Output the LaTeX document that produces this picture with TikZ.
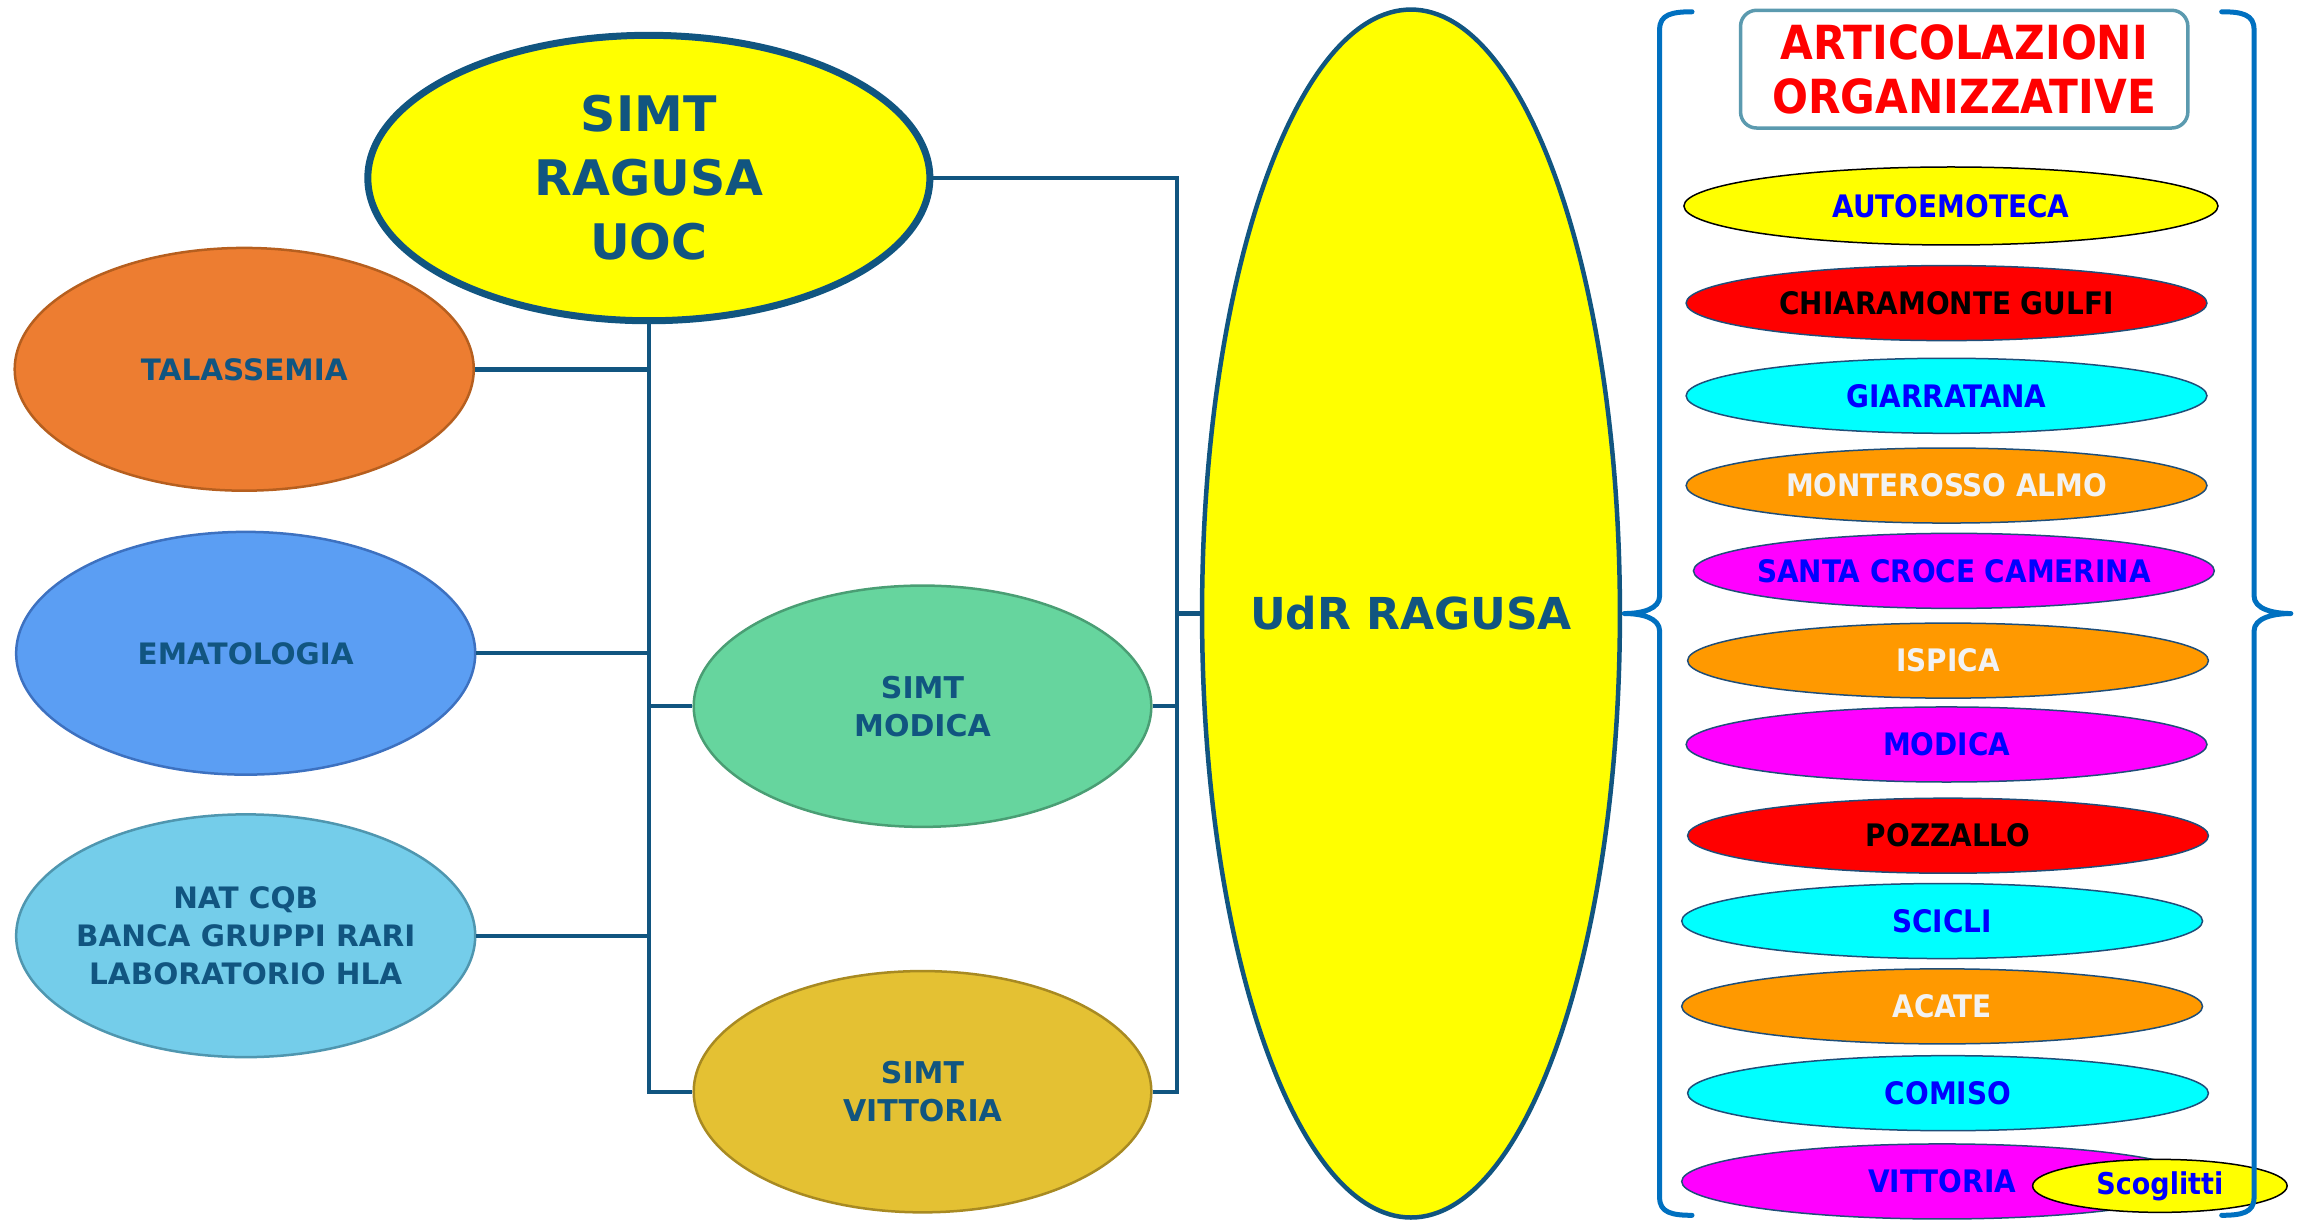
\documentclass[tikz,border=0pt]{standalone}
\usepackage{fontspec}
\setmainfont{DejaVu Sans}
\newfontfamily\cond{DejaVu Sans Condensed}
\usetikzlibrary{shapes.geometric}
\definecolor{navy}{HTML}{115580}
\definecolor{brblue}{HTML}{0070C0}
\definecolor{hdrbd}{HTML}{5B9AAF}
\definecolor{talf}{HTML}{ED7D31}\definecolor{tald}{HTML}{B65F1F}
\definecolor{emaf}{HTML}{5B9EF3}\definecolor{emad}{HTML}{3D71C0}
\definecolor{natf}{HTML}{74CDEA}\definecolor{natd}{HTML}{4F96AF}
\definecolor{modf}{HTML}{66D59E}\definecolor{modd}{HTML}{4A9E74}
\definecolor{vitf}{HTML}{E4C133}\definecolor{vitd}{HTML}{A88A22}
\definecolor{yel}{HTML}{FFFF00}\definecolor{rd}{HTML}{FF0000}
\definecolor{cy}{HTML}{00FFFF}\definecolor{orn}{HTML}{FF9900}
\definecolor{mag}{HTML}{FF00FF}\definecolor{bl}{HTML}{0000FF}
\definecolor{wh}{HTML}{F2F2F2}\definecolor{sbd}{HTML}{1F4E79}
\def\f{1.4713pt}
\begin{document}
\begin{tikzpicture}[x=1.4713pt,y=-1.4713pt,
  el/.style={ellipse,inner sep=0pt,align=center,text=navy,font=\bfseries},
  bigfont/.style={font=\fontsize{29.5}{38}\selectfont\bfseries},
  big/.style={el,minimum width=312*\f,minimum height=165*\f,line width=2.5pt,bigfont},
  mid/.style={el,minimum width=311*\f,minimum height=164*\f,line width=2.5pt,
     font=\fontsize{30}{38}\selectfont\bfseries},
  smfont/.style={font=\cond\fontsize{31}{36}\selectfont\bfseries},
  sm/.style={el,minimum width=354*\f,minimum height=51*\f,line width=1.5pt,draw=sbd,smfont},
  conn/.style={draw=navy,line width=4.4pt},
  brace/.style={draw=brblue,line width=5pt,line cap=round,line join=round}]
\useasboundingbox (0,0) rectangle (1568,829);

% main nodes
\node[el,fill=yel,draw=navy,line width=7pt,minimum width=382*\f,minimum height=194*\f,
  font=\fontsize{49}{64}\selectfont\bfseries] (uoc) at (441,121) {SIMT\\RAGUSA\\UOC};
\node[big,fill=talf,draw=tald] (tal) at (166,251) {TALASSEMIA};
\node[big,fill=emaf,draw=emad] (ema) at (167,444) {EMATOLOGIA};
\node[big,fill=natf,draw=natd,
  label={[text=navy,align=center,bigfont]center:NAT CQB\\BANCA GRUPPI RARI\\LABORATORIO HLA}] (nat) at (167,636) {};
\node[mid,fill=modf,draw=modd] (mod) at (627,480) {SIMT\\MODICA};
\node[mid,fill=vitf,draw=vitd] (vit) at (627,742) {SIMT\\VITTORIA};
\node[el,fill=yel,draw=navy,line width=4.5pt,minimum width=284*\f,minimum height=821*\f,
  label={[text=navy,font=\fontsize{44}{50}\selectfont\bfseries]center:UdR RAGUSA}] (udr) at (959,417) {};

% connectors
\coordinate (rb1) at (800,121);
\coordinate (rb2) at (800,742);
\coordinate (lb2) at (441,742);
\draw[conn] (uoc.east) -- (rb1) -- (rb2) -- (vit.east);
\draw[conn] (mod.east) -- (mod.east -| rb1);
\draw[conn] (udr.west) -- (udr.west -| rb1);
\draw[conn] (uoc.south) -- (lb2) -- (vit.west);
\draw[conn] (tal.east) -- (tal.east -| lb2);
\draw[conn] (ema.east) -- (ema.east -| lb2);
\draw[conn] (nat.east) -- (nat.east -| lb2);
\draw[conn] (mod.west) -- (mod.west -| lb2);

% header
\node[draw=hdrbd,line width=3.5pt,rounded corners=16pt,minimum width=304*\f,minimum height=80*\f,
  inner sep=0pt,align=center,text=rd,font=\cond\fontsize{47}{54}\selectfont\bfseries]
  (hdr) at (1335,47) {ARTICOLAZIONI\\ORGANIZZATIVE};

% small ellipses
\node[sm,fill=yel,draw=black,text=bl,minimum width=363*\f,minimum height=53*\f] (s1) at (1326,140) {AUTOEMOTECA};
\node[sm,fill=rd,text=black] (s2) at (1323,206) {CHIARAMONTE GULFI};
\node[sm,fill=cy,text=bl] (s3) at (1323,269) {GIARRATANA};
\node[sm,fill=orn,text=wh] (s4) at (1323,330) {MONTEROSSO ALMO};
\node[sm,fill=mag,label={[text=bl,smfont]center:SANTA CROCE CAMERINA}] (s5) at (1328,388) {};
\node[sm,fill=orn,text=wh] (s6) at (1324,449) {ISPICA};
\node[sm,fill=mag,text=bl] (s7) at (1323,506) {MODICA};
\node[sm,fill=rd,text=black] (s8) at (1324,568) {POZZALLO};
\node[sm,fill=cy,text=bl] (s9) at (1320,626) {SCICLI};
\node[sm,fill=orn,text=wh] (s10) at (1320,684) {ACATE};
\node[sm,fill=cy,text=bl] (s11) at (1324,743) {COMISO};
\node[sm,fill=mag,text=bl] (s12) at (1320,803) {VITTORIA};
\node[sm,fill=yel,draw=black,text=bl,minimum width=173*\f,minimum height=36*\f,
  font=\cond\fontsize{30}{36}\selectfont\bfseries] (s13) at (1468,806) {Scoglitti};

% braces
\coordinate (ltip) at (1104,417);
\coordinate (rtip) at (1557,417);
\draw[conn,line width=3pt] (udr.east) -- (ltip);
\draw[brace] (1150,8) .. controls (1136,8) and (1128,10) .. (1128,20) -- (1128,405)
  .. controls (1128,414) and (1116,417) .. (ltip)
  .. controls (1116,417) and (1128,420) .. (1128,429) -- (1128,814)
  .. controls (1128,824) and (1136,826) .. (1150,826);
\draw[brace] (1510,8) .. controls (1524,8) and (1532,10) .. (1532,20) -- (1532,405)
  .. controls (1532,414) and (1545,417) .. (rtip)
  .. controls (1545,417) and (1532,420) .. (1532,429) -- (1532,814)
  .. controls (1532,824) and (1524,826) .. (1510,826);
\end{tikzpicture}
\end{document}
